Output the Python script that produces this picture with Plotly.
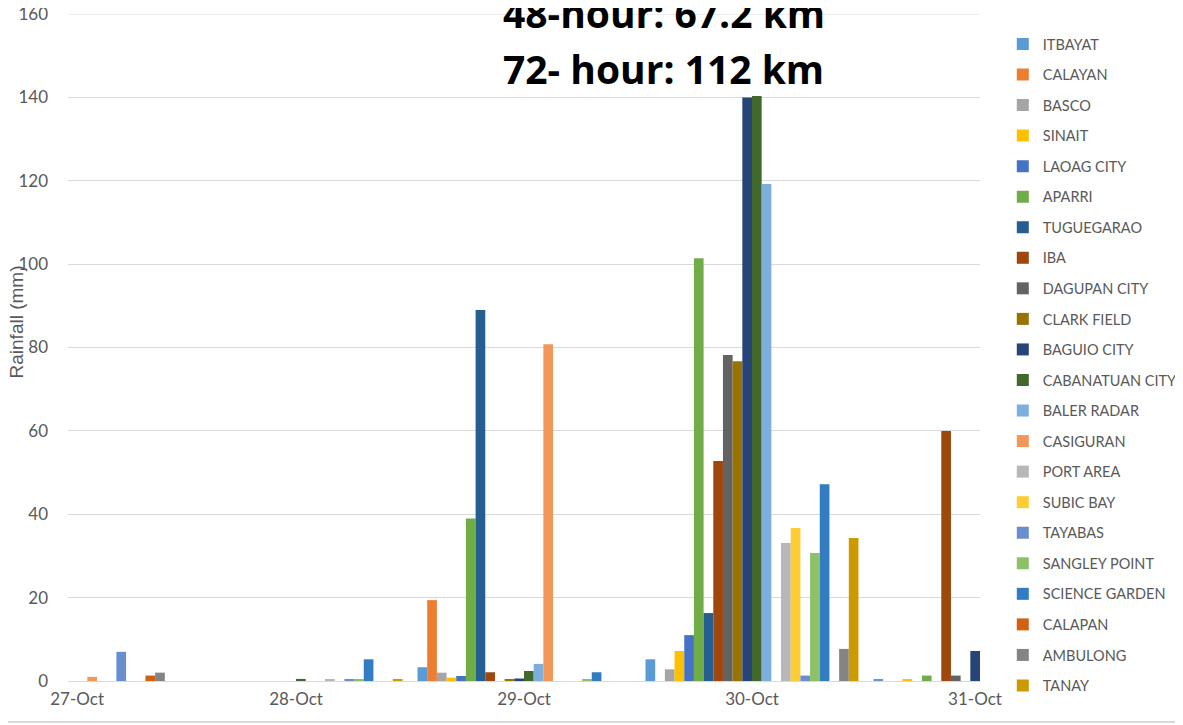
import plotly.graph_objects as go

dates = ["27-Oct", "28-Oct", "29-Oct", "30-Oct", "31-Oct"]

stations = ["ITBAYAT", "CALAYAN", "BASCO", "SINAIT", "LAOAG CITY", "APARRI",
            "TUGUEGARAO", "IBA", "DAGUPAN CITY", "CLARK FIELD", "BAGUIO CITY",
            "CABANATUAN CITY", "BALER RADAR", "CASIGURAN", "PORT AREA", "SUBIC BAY",
            "TAYABAS", "SANGLEY POINT", "SCIENCE GARDEN", "CALAPAN", "AMBULONG", "TANAY"]

colors = ["#5B9BD5", "#ED7D31", "#A5A5A5", "#FFC000", "#4472C4", "#70AD47",
          "#255E91", "#9E480E", "#636363", "#997300", "#264478", "#43682B",
          "#7CAFDD", "#F1975A", "#B7B7B7", "#FFCD33", "#698ED0", "#8CC168",
          "#327DC2", "#D26012", "#848484", "#CC9A00"]

# rainfall (mm) per station for 27-Oct .. 31-Oct
itbayat       = [0, 0, 3.3, 5.2, 0.3]
calayan       = [0, 0, 19.4, 0, 0]
basco         = [0, 0, 2.0, 2.8, 0]
sinait        = [0, 0, 0.8, 7.2, 0.3]
laoag_city    = [0, 0, 1.2, 11.0, 0]
aparri        = [0, 0, 39.0, 101.4, 1.3]
tuguegarao    = [0, 0, 89.0, 16.3, 0]
iba           = [0, 0, 2.1, 52.8, 60.0]
dagupan_city  = [0, 0, 0, 78.2, 1.3]
clark_field   = [0, 0, 0.3, 76.7, 0]
baguio_city   = [0, 0, 0.6, 140.0, 7.2]
cabanatuan    = [0, 0.5, 2.4, 140.3, 0]
baler_radar   = [0, 0, 4.1, 119.2, 0]
casiguran     = [1.0, 0, 80.8, 0, 0]
port_area     = [0, 0.3, 0, 33.1, 0]
subic_bay     = [0, 0, 0, 36.7, 0]
tayabas       = [7.0, 0.3, 0, 1.3, 0]
sangley_point = [0, 0.3, 0.3, 30.7, 0]
science_garden = [0, 5.2, 2.1, 47.2, 0]
calapan       = [1.3, 0, 0, 0, 0]
ambulong      = [2.0, 0, 0, 7.7, 0]
tanay         = [0, 0.4, 0, 34.3, 0]

values = [itbayat, calayan, basco, sinait, laoag_city, aparri, tuguegarao, iba,
          dagupan_city, clark_field, baguio_city, cabanatuan, baler_radar, casiguran,
          port_area, subic_bay, tayabas, sangley_point, science_garden, calapan,
          ambulong, tanay]

title_lines = ["48-hour: 67.2 km", "72- hour: 112 km"]
y_title = "Rainfall (mm)"
y_max = 160

# day index positions on the x axis
x_pos = list(range(len(dates)))
# first/last labels are kept inside the plot edge, as in the original
label_pos = [0.04, 1, 2, 3, 3.978]

fig = go.Figure()
for i, (name, vals) in enumerate(zip(stations, values)):
    fig.add_trace(go.Bar(x=x_pos, y=vals, name=name, marker_color=colors[i],
                         marker_line_width=0, legendgroup=name))

grey = "#595959"
fig.update_layout(
    width=1175, height=717,
    margin=dict(l=60, r=203, t=6, b=44, autoexpand=False),
    plot_bgcolor="white", paper_bgcolor="white",
    barmode="group", bargap=0.066, bargroupgap=0,
    font=dict(family="Lato, sans-serif", color=grey),
    showlegend=True,
    legend=dict(x=1.025, y=0.979, xanchor="left", yanchor="top",
                font=dict(family="Lato, sans-serif", size=14.5, color=grey),
                tracegroupgap=8.7, traceorder="grouped",
                bgcolor="rgba(0,0,0,0)"),
    xaxis=dict(range=[0, 4], showgrid=False, showline=False,
               zeroline=False, ticks="", tickmode="array", tickvals=label_pos,
               ticktext=dates, tickfont=dict(size=17, color=grey),
               ticklabelstandoff=6, automargin=False, ticklabeloverflow="allow"),
    yaxis=dict(range=[0, y_max], dtick=20, showgrid=True, gridcolor="#D9D9D9",
               gridwidth=1, zeroline=True, zerolinecolor="#D9D9D9", zerolinewidth=1,
               showline=False, ticks="", tickfont=dict(size=17, color=grey),
               ticklabelstandoff=19, automargin=False, ticklabeloverflow="allow"),
)

# top gridline (plotly omits grid lines at the range end)
fig.add_shape(type="line", xref="paper", yref="y", x0=0, x1=1, y0=y_max, y1=y_max,
              line=dict(color="#D9D9D9", width=1), layer="below")

fig.add_annotation(x=-0.0565, y=(681 - 322) / 667, xref="paper", yref="paper",
                   showarrow=False, text=y_title, textangle=-90,
                   xanchor="center", yanchor="middle",
                   font=dict(family="Liberation Sans, Arial, sans-serif", size=19, color=grey))

fig.add_annotation(x=0.6535, y=1.0015, xref="paper", yref="paper", showarrow=False,
                   text="<b>" + title_lines[0] + "</b>", xanchor="center", yanchor="middle",
                   font=dict(family="Open Sans, sans-serif", size=39, color="black"))
fig.add_annotation(x=0.6535, y=0.919, xref="paper", yref="paper", showarrow=False,
                   text="<b>" + title_lines[1] + "</b>", xanchor="center", yanchor="middle",
                   font=dict(family="Open Sans, sans-serif", size=39, color="black"))

fig.add_shape(type="line", xref="paper", yref="paper", x0=-0.08, x1=1.23,
              y0=-0.0615, y1=-0.0615, line=dict(color="#D9D9D9", width=2))

fig.write_html("out.html")
